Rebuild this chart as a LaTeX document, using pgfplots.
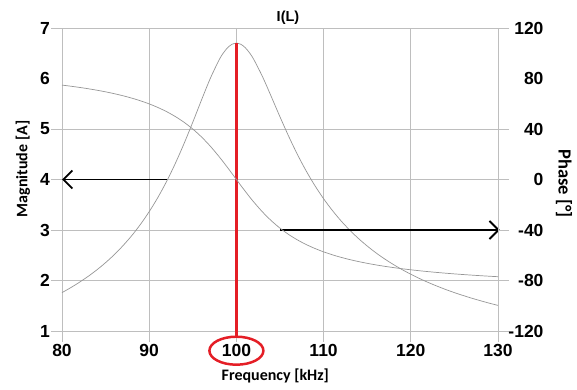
\documentclass[border=0pt]{standalone}
\usepackage{pgfplots}
\pgfplotsset{compat=1.18}
\usepackage{fontspec}
\setmainfont{Liberation Sans}
\newfontfamily\calib{Carlito}
\usetikzlibrary{arrows.meta}
\definecolor{gridgray}{RGB}{190,190,190}
\definecolor{curvegray}{RGB}{150,150,150}
\definecolor{myred}{RGB}{228,30,38}

\pgfplotstableread{
f mag
80 1.760
81 1.858
82 1.965
83 2.082
84 2.211
85 2.354
86 2.513
87 2.691
88 2.889
89 3.112
90 3.363
91 3.646
92 3.964
93 4.320
94 4.713
95 5.136
96 5.575
97 5.999
98 6.363
98.5 6.505
99 6.612
99.5 6.678
100 6.700
100.5 6.678
101 6.613
101.5 6.510
102 6.375
103 6.034
104 5.642
105 5.240
106 4.854
107 4.495
108 4.170
109 3.879
110 3.619
111 3.388
112 3.181
113 2.997
114 2.831
115 2.683
116 2.548
117 2.427
118 2.317
119 2.216
120 2.124
121 2.039
122 1.961
123 1.889
124 1.822
125 1.760
126 1.703
127 1.649
128 1.599
129 1.551
130 1.507
}\magtable

\pgfplotstableread{
f ph
80 74.77
81 73.90
82 72.95
83 71.90
84 70.73
85 69.43
86 67.97
87 66.32
88 64.45
89 62.32
90 59.87
91 57.03
92 53.73
93 49.85
94 45.30
95 39.95
96 33.69
97 26.44
98 18.25
98.5 13.86
99 9.32
99.5 4.68
100 0
100.5 -4.65
101 -9.22
101.5 -13.66
102 -17.91
103 -25.76
104 -32.63
105 -38.55
106 -43.58
107 -47.86
108 -51.51
109 -54.62
110 -57.31
111 -59.63
112 -61.66
113 -63.43
114 -65.00
115 -66.40
116 -67.64
117 -68.76
118 -69.77
119 -70.69
120 -71.52
121 -72.28
122 -72.98
123 -73.62
124 -74.22
125 -74.77
126 -75.28
127 -75.75
128 -76.20
129 -76.61
130 -77.00
}\phtable

\begin{document}
\begin{tikzpicture}[x=1pt,y=1pt]
\path[use as bounding box] (0,0) rectangle (577,390);
\begin{axis}[
  at={(62pt,59pt)}, anchor=south west,
  width=436pt, height=303pt, scale only axis,
  xmin=80, xmax=130, ymin=1, ymax=7,
  xtick={80,90,...,130},
  ytick={1,2,3,4,5,7},
  extra y ticks={6},
  extra y tick style={grid=none, major tick style={draw=none}},
  xtick pos=lower, ytick pos=left,
  grid=major,
  grid style={gridgray, line width=0.8pt},
  axis line style={gridgray, line width=0.8pt},
  tick style={gridgray, line width=0.8pt},
  tick align=outside, major tick length=11pt,
  ticklabel style={font=\fontsize{17.5}{20}\selectfont\bfseries},
  yticklabel style={inner sep=1pt},
  xticklabel style={inner sep=2pt},
  /pgf/number format/assume math mode=true,
  clip=false,
]
\addplot[curvegray, line width=0.7pt, smooth] table[x=f, y=mag] {\magtable};
\addplot[myred, line width=3.5pt] coordinates {(100,0.90) (100,6.70)};
\addplot[black, line width=1.8pt, -{Straight Barb[length=9pt,width=18pt,line width=1.8pt]}] coordinates {(92,4) (80,4)};
\addplot[black, line width=1.8pt, -{Straight Barb[length=9pt,width=18pt,line width=1.8pt]}] coordinates {(105,3) (130.2,3)};
\draw[myred, line width=2.5pt] (axis cs:100,0.61) ellipse [x radius=27pt, y radius=14pt];
\end{axis}
\begin{axis}[
  at={(62pt,59pt)}, anchor=south west,
  width=436pt, height=303pt, scale only axis,
  xmin=80, xmax=130, ymin=-120, ymax=120,
  axis x line=none, axis y line*=right,
  ytick={-120,-80,-40,0,40,120},
  extra y ticks={80},
  extra y tick style={major tick style={draw=none}},
  axis line style={gridgray, line width=0.8pt},
  tick style={gridgray, line width=0.8pt},
  tick align=outside, major tick length=11pt,
  ticklabel style={font=\fontsize{17.5}{20}\selectfont\bfseries},
  yticklabel style={anchor=east, xshift=38pt},
  /pgf/number format/assume math mode=true,
  clip=false,
]
\addplot[curvegray, line width=0.7pt, smooth] table[x=f, y=ph] {\phtable};
\end{axis}
\node[font=\fontsize{14.5}{16}\selectfont\bfseries] at (288,372) {I(L)};
\node[font=\calib\fontsize{16}{18}\selectfont\bfseries] at (275.3,14) {Frequency [kHz]};
\node[font=\calib\fontsize{16}{18}\selectfont\bfseries, rotate=90] at (23,221) {Magnitude [A]};
\node[font=\calib\fontsize{18.5}{20}\selectfont\bfseries, rotate=-90] at (564,206.7) {Phase [°]};
\end{tikzpicture}
\end{document}
